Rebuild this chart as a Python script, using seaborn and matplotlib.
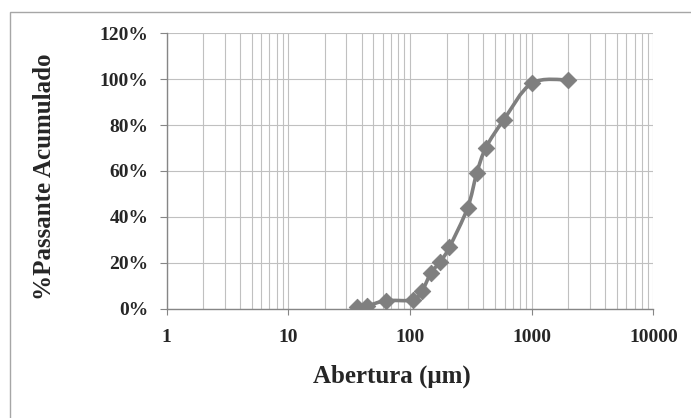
import numpy as np
import matplotlib
matplotlib.use("Agg")
import matplotlib.pyplot as plt
import matplotlib.ticker as mticker
from matplotlib.patches import Rectangle, PathPatch
from matplotlib.path import Path
import seaborn as sns

# sieve openings (um) and cumulative passing (%)
abertura = [37, 44, 63, 105, 125, 149, 177, 210, 297, 354, 420, 590, 1000, 2000]
passante = [0.5, 1.0, 3.4, 3.7, 7.5, 15.6, 20.3, 26.6, 43.8, 59.1, 70.1, 82.3, 98.2, 99.7]

x_ticks = [1, 10, 100, 1000, 10000]
y_ticks = [0, 20, 40, 60, 80, 100, 120]

sns.set_style("white")
plt.rcParams["font.family"] = ["Liberation Serif", "DejaVu Serif"]
plt.rcParams["font.weight"] = "bold"

fig = plt.figure(figsize=(6.91, 4.18), dpi=100)
ax = fig.add_axes([166.6 / 691, 1 - 308.5 / 418, 486.8 / 691, 275.2 / 418])

# outer chart border
fig.patches.append(Rectangle((9.5 / 691, -0.1), 1.2, 1.1 - 12.5 / 418,
                             transform=fig.transFigure, fill=False,
                             edgecolor="#a6a6a6", linewidth=1.0))

grid_c = "#c0c0c0"
line_c = "#7f7f7f"
ax.set_xscale("log")
ax.set_xlim(1, 10000)
ax.set_ylim(0, 120)
ax.set_xticks(x_ticks)
ax.xaxis.set_major_formatter(mticker.FuncFormatter(lambda v, p: f"{int(v)}"))
ax.xaxis.set_minor_locator(mticker.LogLocator(base=10, subs=range(2, 10)))
ax.xaxis.set_minor_formatter(mticker.NullFormatter())
ax.set_yticks(y_ticks)
ax.yaxis.set_major_formatter(mticker.PercentFormatter(xmax=100, decimals=0))

ax.grid(True, which="major", axis="both", color=grid_c, linewidth=0.8)
ax.grid(True, which="minor", axis="x", color=grid_c, linewidth=0.8)
ax.set_axisbelow(True)

# markers through seaborn
sns.scatterplot(x=abertura, y=passante, ax=ax, color=line_c, marker="D",
                s=70, edgecolor=line_c, zorder=4, legend=False)

# smoothed connecting line (Excel style), bezier in log-x space
lx = np.log10(abertura)
py = np.array(passante, dtype=float)
n = len(lx)
verts = [(abertura[0], passante[0])]
codes = [Path.MOVETO]
for i in range(n - 1):
    x0, y0 = (lx[i - 1], py[i - 1]) if i > 0 else (lx[i], py[i])
    x1, y1 = lx[i], py[i]
    x2, y2 = lx[i + 1], py[i + 1]
    x3, y3 = (lx[i + 2], py[i + 2]) if i + 2 < n else (x2, y2)
    c1 = (x1 + (x2 - x0) / 6, y1 + (y2 - y0) / 6)
    c2 = (x2 - (x3 - x1) / 6, y2 - (y3 - y1) / 6)
    verts += [(10 ** c1[0], c1[1]), (10 ** c2[0], c2[1]), (10 ** x2, y2)]
    codes += [Path.CURVE4] * 3
ax.add_patch(PathPatch(Path(verts, codes), fill=False, edgecolor=line_c,
                       linewidth=2.6, zorder=3, capstyle="round"))

for s in ["top", "right"]:
    ax.spines[s].set_visible(False)
for s in ["left", "bottom"]:
    ax.spines[s].set_color("#868686")
    ax.spines[s].set_linewidth(1.0)

ax.tick_params(axis="y", which="major", direction="out", length=5, width=0.8,
               color="#868686", labelsize=14, pad=8, left=True)
ax.tick_params(axis="x", which="major", direction="out", length=4, width=0.8,
               color="#868686", labelsize=14, pad=11, bottom=True)
ax.tick_params(axis="x", which="minor", length=0)
for lab in ax.get_xticklabels() + ax.get_yticklabels():
    lab.set_fontweight("bold")

fig.text(45 / 691, 1 - 177 / 418, "%Passante Acumulado", rotation=90,
         ha="center", va="center", fontsize=18, fontweight="bold")
fig.text(392 / 691, 1 - 376 / 418, "Abertura (μm)",
         ha="center", va="center", fontsize=18, fontweight="bold")

fig.savefig("out.png", dpi=100)
